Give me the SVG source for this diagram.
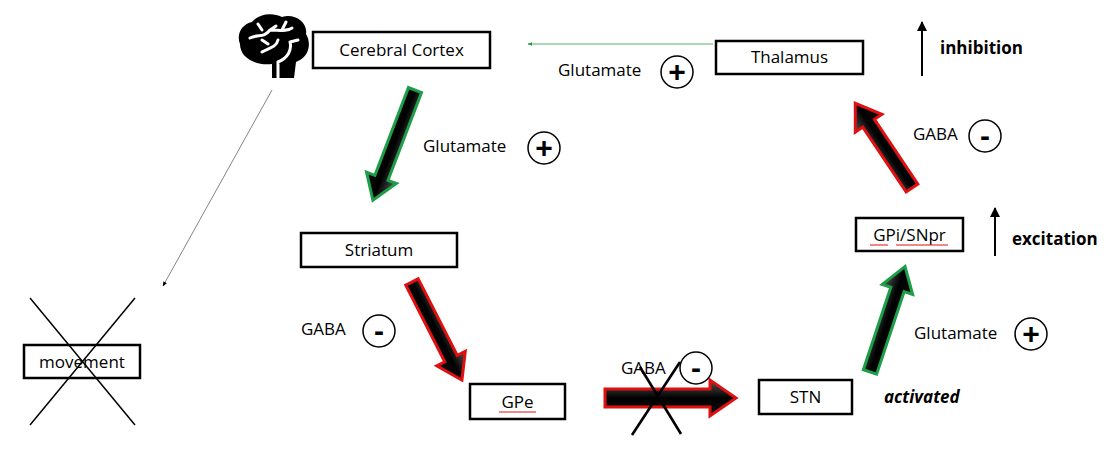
<svg xmlns="http://www.w3.org/2000/svg" width="1120" height="456" viewBox="0 0 1120 456">
<defs>
<linearGradient id="g" x1="0" y1="0" x2="0" y2="1"><stop offset="0" stop-color="#555"/><stop offset="0.5" stop-color="#000"/><stop offset="1" stop-color="#111"/></linearGradient>
<marker id="ag" viewBox="0 0 10 10" refX="9" refY="5" markerWidth="6" markerHeight="6" orient="auto"><path d="M0,1 L10,5 L0,9 z" fill="#2a9d4a"/></marker>
<marker id="ak" viewBox="0 0 10 10" refX="9" refY="5" markerWidth="6" markerHeight="6" orient="auto"><path d="M0,1 L10,5 L0,9 z" fill="#000"/></marker>
<marker id="au" viewBox="0 0 10 10" refX="9" refY="5" markerWidth="5" markerHeight="5" orient="auto"><path d="M0,0 L10,5 L0,10 z" fill="#000"/></marker>
</defs>
<style>
.box{fill:#fff;stroke:#000;stroke-width:2.5}
.t{font-family:"Open Sans","Liberation Sans",sans-serif;font-size:17px;fill:#000}
.b{font-weight:bold;font-size:17px}
.sg{font-family:"Liberation Sans",sans-serif;font-weight:bold;font-size:30px;text-anchor:middle}
.c{fill:#fff;stroke:#000;stroke-width:1.5}
.s{stroke:#000;stroke-width:2.6}
.ga{stroke:#1e9e48;stroke-width:3;fill:url(#g)}
.ra{stroke:#e01010;stroke-width:3;fill:url(#g)}
.x{stroke:#000;stroke-width:1.5}
</style>
<rect width="1120" height="456" fill="#fff"/>
<g id="connectors">
<line x1="713" y1="44" x2="528" y2="44" stroke="#2a9d4a" stroke-width="0.8" marker-end="url(#ag)"/>
<line x1="272" y1="90" x2="163" y2="286" stroke="#666" stroke-width="0.8" marker-end="url(#ak)"/>
<polygon class="ga" points="0,-7 94,-7 94,-16 118,0 94,16 94,7 0,7" transform="translate(415,90) rotate(110.9)"/>
<polygon class="ra" points="0,-7 86,-7 86,-16 110,0 86,16 86,7 0,7" transform="translate(412,282) rotate(63)"/>
<polygon class="ra" points="0,-9 105,-9 105,-18 131,0 105,18 105,9 0,9" transform="translate(605,398)"/>
<polygon class="ga" points="0,-7 87,-7 87,-16 111,0 87,16 87,7 0,7" transform="translate(870,372) rotate(-71.6)"/>
<polygon class="ra" points="0,-7 78,-7 78,-16 102,0 78,16 78,7 0,7" transform="translate(912,188) rotate(-123.8)"/>
<line x1="922" y1="76" x2="922" y2="22" stroke="#000" stroke-width="2" marker-end="url(#au)"/>
<line x1="995" y1="256" x2="995" y2="208" stroke="#000" stroke-width="2" marker-end="url(#au)"/>
</g>
<g id="brain">
<path d="M272,78 L272,64 C256,66 240,58 240,44 C236,34 242,24 252,22 C258,14 272,12 282,17 C294,13 308,22 306,34 C312,44 308,56 300,60 L296,62 L294,78 Z" fill="#000"/>
<path d="M278,78 L278,62 C288,58 292,50 290,42 M250,38 C258,34 264,38 270,30 L276,26 M262,30 L258,24 M270,30 C280,30 286,32 292,28 M282,30 L286,22 M262,52 C268,48 276,48 278,40 M290,42 L298,40 M268,44 L262,40" stroke="#fff" stroke-width="3" fill="none" stroke-linecap="round"/>
</g>
<g id="cortex"><rect class="box" x="313" y="32" width="177" height="36"/><text class="t" x="401.5" y="56" text-anchor="middle">Cerebral Cortex</text></g>
<g id="thalamus"><rect class="box" x="716" y="41" width="147" height="33"/><text class="t" x="789.5" y="63" text-anchor="middle">Thalamus</text></g>
<g id="striatum"><rect class="box" x="301" y="233" width="156" height="34"/><text class="t" x="379" y="256" text-anchor="middle">Striatum</text></g>
<g id="gpe"><rect class="box" x="470" y="384" width="95" height="35"/><text class="t" x="517.5" y="408" text-anchor="middle">GPe</text><line x1="499" y1="412" x2="536" y2="412" stroke="#e01010" stroke-width="1"/></g>
<g id="stn"><rect class="box" x="759" y="380" width="93" height="34"/><text class="t" x="805.5" y="403" text-anchor="middle">STN</text></g>
<g id="gpi"><rect class="box" x="856" y="218" width="107" height="33"/><text class="t" x="909.5" y="241" text-anchor="middle">GPi/SNpr</text><path d="M870,245 L888,245 M896,245 L948,245" stroke="#e01010" stroke-width="1"/></g>
<g id="movement"><rect class="box" x="24" y="345" width="116" height="33"/><text class="t" x="82" y="368" text-anchor="middle">movement</text>
<line class="x" x1="30" y1="298" x2="135" y2="425"/><line class="x" x1="135" y1="298" x2="30" y2="425"/></g>
<g id="labels">
<text class="t" x="558" y="76">Glutamate</text><circle class="c" cx="677" cy="72" r="16"/><text class="sg" x="677" y="82">+</text>
<text class="t" x="423" y="152">Glutamate</text><circle class="c" cx="544" cy="148" r="16"/><text class="sg" x="544" y="158">+</text>
<text class="t" x="301" y="335">GABA</text><circle class="c" cx="379" cy="331" r="16"/><text class="sg" x="379" y="341">-</text>
<text class="t" x="621" y="374">GABA</text><circle class="c" cx="696" cy="368" r="16"/><text class="sg" x="696" y="378">-</text>
<line class="s" x1="632" y1="435" x2="680" y2="362"/><line class="s" x1="640" y1="367" x2="681" y2="434"/>
<text class="t" x="913" y="140">GABA</text><circle class="c" cx="985" cy="136" r="16"/><text class="sg" x="985" y="146">-</text>
<text class="t" x="914" y="339">Glutamate</text><circle class="c" cx="1031" cy="334" r="16"/><text class="sg" x="1031" y="344">+</text>
<text class="t b" x="940" y="54">inhibition</text>
<text class="t b" x="1012" y="245">excitation</text>
<text class="t b" x="884" y="403" font-style="italic">activated</text>
</g>
</svg>
